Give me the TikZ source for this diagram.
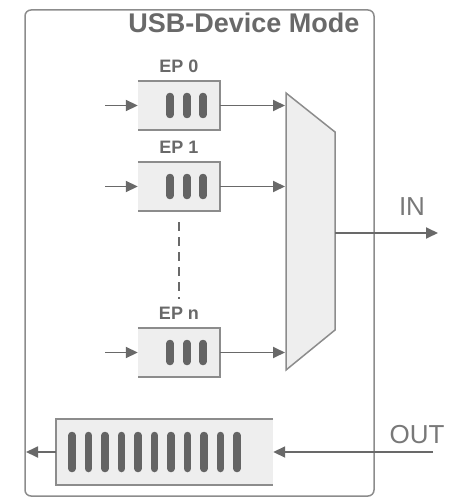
\documentclass[tikz,border=0pt]{standalone}
\usepackage{fontspec}
\setmainfont{Liberation Sans}
\usepackage{tikz}
\usetikzlibrary{arrows.meta,positioning}
\definecolor{usbline}{RGB}{140,140,140}
\definecolor{usbarrow}{RGB}{105,105,105}
\definecolor{usbbar}{RGB}{100,100,100}
\definecolor{usbfill}{RGB}{238,238,238}
\definecolor{usbtext}{RGB}{105,105,105}

\begin{document}
\begin{tikzpicture}[x=1pt,y=-1pt,>={Triangle[length=12pt,width=11pt]},
	conn/.style={->,draw=usbarrow,line width=1.8pt},
	fifobox/.style={fill=usbfill,inner sep=0pt},
	fifoedge/.style={draw=usbline,line width=1.5pt},
	pillbar/.style={draw=usbbar,line width=7.5pt,line cap=round},
	eplabel/.style={font=\bfseries\fontsize{18}{20}\selectfont,text=usbtext,anchor=base},
	portlabel/.style={font=\fontsize{26}{30}\selectfont,text=usbtext!90,anchor=base}]
		\useasboundingbox (0,0) rectangle (454,497);
		% Rahmen
		\draw[usbline,line width=1.5pt,rounded corners=6pt] (25,10) rectangle (374,496);
		\node[font=\bfseries\fontsize{27}{30}\selectfont,text=usbtext,anchor=base] (title) at (244,33) {USB-Device Mode};
		% Endpunkte
		\foreach \n/\y/\txt in {0/105.5/EP 0,1/186.5/EP 1,n/352.5/EP n}{
			\node[fifobox,minimum width=82pt,minimum height=49pt] (ep\n) at (179,\y) {};
			\draw[fifoedge] (ep\n.north west) -- (ep\n.north east) -- (ep\n.south east) -- (ep\n.south west);
			\foreach \dx in {-9,8,24}
				\draw[pillbar] ([xshift=\dx pt,yshift=9pt]ep\n.center) -- ([xshift=\dx pt,yshift=-9pt]ep\n.center);
			\node[eplabel] (lab\n) at ([yshift=8pt]ep\n.north) {\txt};
			\coordinate (in\n) at (105,\y);
			\coordinate (mx\n) at (285,\y);
			\draw[conn] (in\n) -- (ep\n);
			\draw[conn] (ep\n) -- (mx\n);
		}
		\draw[usbarrow,line width=1.8pt,dash pattern=on 9pt off 6pt] ([yshift=-11pt]ep1.south) -- ([yshift=5pt]labn.north);
		% Multiplexer
		\coordinate (M1) at (286,93);
		\coordinate (M2) at (335,132);
		\coordinate (M3) at (335,330);
		\coordinate (M4) at (286,370);
		\draw[fifoedge,fill=usbfill] (M1) -- (M2) -- (M3) -- (M4) -- cycle;
		\coordinate (muxout) at (335,233);
		\coordinate (inend) at (438,233);
		\draw[conn] (muxout) -- (inend);
		\node[portlabel] (inlab) at (412,215) {IN};
		% OUT-Puffer
		\node[fifobox,minimum width=217pt,minimum height=66pt] (outbuf) at (164.5,452) {};
		\draw[fifoedge] (outbuf.north east) -- (outbuf.north west) -- (outbuf.south west) -- (outbuf.south east);
		\foreach \i in {0,...,10}
			\draw[pillbar] (72+16.5*\i,435.5) -- (72+16.5*\i,468.5);
		\coordinate (outstart) at (433,452);
		\coordinate (outend) at (26,452);
		\draw[conn] (outstart) -- (outbuf.east);
		\draw[conn] (outbuf) -- (outend);
		\node[portlabel] (outlab) at (417,443) {OUT};
\end{tikzpicture}
\end{document}
